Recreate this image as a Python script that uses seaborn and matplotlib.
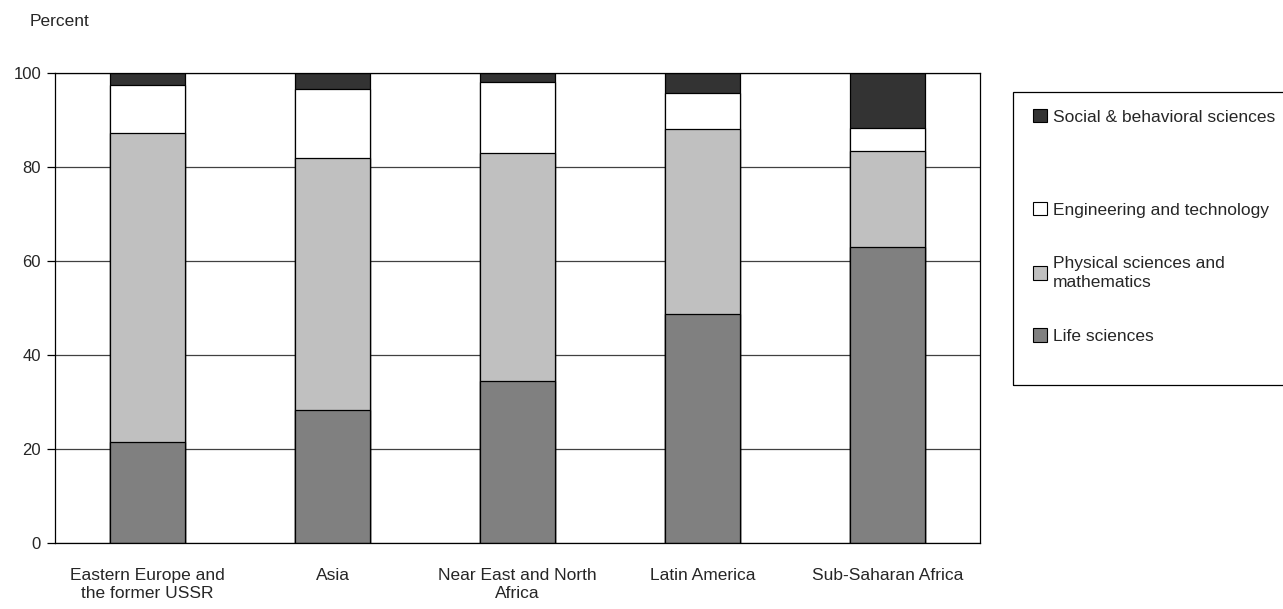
import numpy as np
import matplotlib
matplotlib.use('Agg')
import matplotlib.pyplot as plt
import pandas as pd
import seaborn as sns
from matplotlib.patches import Patch, Rectangle

regions = ['Eastern Europe and\nthe former USSR', 'Asia', 'Near East and North\nAfrica',
           'Latin America', 'Sub-Saharan Africa']
life = [21.5, 28.3, 34.5, 48.7, 63.0]
physical = [65.8, 53.7, 48.4, 39.4, 20.3]
engineering = [10.2, 14.7, 15.2, 7.7, 4.9]
social = [2.5, 3.3, 1.9, 4.2, 11.8]

fields = ['Life sciences', 'Physical sciences and\nmathematics',
          'Engineering and technology', 'Social & behavioral sciences']
colors = ['#808080', '#c0c0c0', '#ffffff', '#333333']

sns.set_style('white')
plt.rcParams['font.family'] = ['Liberation Sans', 'DejaVu Sans']
plt.rcParams['font.size'] = 12.5

df = pd.DataFrame({'region': regions, 'life': life, 'physical': physical,
                   'engineering': engineering, 'social': social})
cols = ['life', 'physical', 'engineering', 'social']
cum = df[cols].cumsum(axis=1)

fig = plt.figure(figsize=(12.83, 6.09), dpi=100)
ax = fig.add_axes([55 / 1283, 66 / 609, 925 / 1283, 470 / 609])

ax.yaxis.grid(True, color='#404040', linewidth=0.9)
ax.set_axisbelow(True)

# draw cumulative totals from the top down so each layer covers the one above
for i in range(len(cols) - 1, -1, -1):
    sns.barplot(x=df['region'], y=cum[cols[i]], color=colors[i], width=0.405,
                edgecolor='black', linewidth=0.9, saturation=1, ax=ax, zorder=2)

ax.set_ylim(0, 100)
ax.set_xlim(-0.5, 4.5)
ax.set_yticks(range(0, 101, 20))
ax.set_xlabel('')
ax.set_ylabel('')
ax.tick_params(axis='y', which='both', left=True, length=6, width=0.9, color='black',
               pad=4, labelsize=12)
ax.tick_params(axis='x', length=0, pad=18, labelsize=12.5)
for lbl in ax.get_xticklabels():
    lbl.set_linespacing(1.25)
for s in ax.spines.values():
    s.set_color('black')
    s.set_linewidth(0.9)

fig.text(30 / 1283, 1 - 22 / 609, 'Percent', ha='left', va='center', fontsize=12.5)

# legend frame, runs off the right edge like the original
fig.patches.append(Rectangle((1013 / 1283, 1 - 385 / 609), 300 / 1283, 293 / 609,
                             transform=fig.transFigure, fill=False, edgecolor='black',
                             linewidth=0.9, clip_on=False))

def patch(i):
    return Patch(facecolor=colors[i], edgecolor='black', linewidth=0.8)

leg_kw = dict(loc='upper left', frameon=False, borderpad=0, borderaxespad=0,
              handlelength=0.8, handleheight=0.8, handletextpad=0.35, fontsize=12.5)
fig.legend([patch(3)], [fields[3]], bbox_to_anchor=(1033 / 1283, 1 - 109 / 609), **leg_kw)
leg2 = fig.legend([patch(2), patch(1), patch(0)], [fields[2], fields[1], fields[0]],
                  bbox_to_anchor=(1033 / 1283, 1 - 202 / 609), labelspacing=2.2, **leg_kw)
for t in leg2.get_texts():
    t.set_linespacing(1.35)

fig.savefig('out.png', dpi=100)
